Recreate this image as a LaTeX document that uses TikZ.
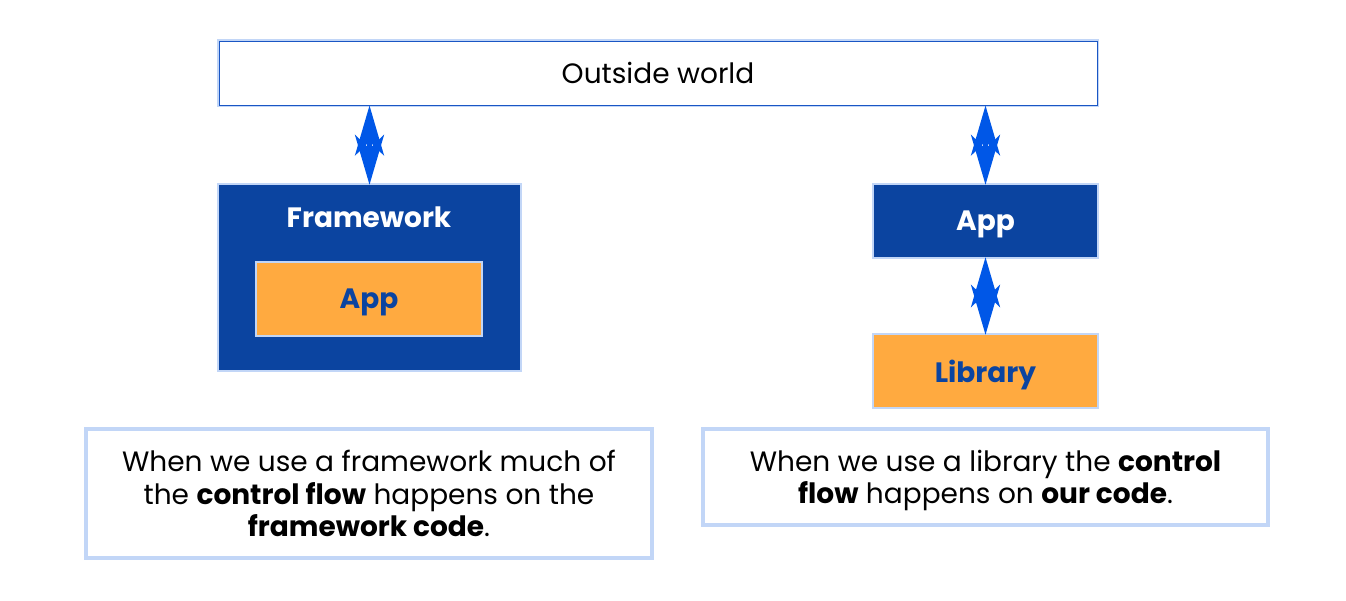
\documentclass[tikz,border=0pt]{standalone}
\usepackage{fontspec}
\setmainfont{Poppins}
\usetikzlibrary{arrows.meta}
\definecolor{navy}{HTML}{0B44A0}
\definecolor{pale}{HTML}{C2D6F7}
\definecolor{edge}{HTML}{1A56C4}
\definecolor{amber}{HTML}{FFAA40}
\definecolor{flow}{HTML}{0057E7}
\begin{document}
\begin{tikzpicture}[x=1pt,y=-1pt,
  box/.style={rectangle,inner sep=0pt,text depth=0pt,preaction={draw=pale,line width=4.5pt}},
  world/.style={box,draw=edge,line width=1pt,fill=white,font=\fontsize{28}{32}\selectfont},
  dark/.style={box,fill=navy,text=white,font=\fontsize{28}{32}\selectfont\bfseries},
  light/.style={box,fill=amber,text=navy,font=\fontsize{28}{32}\selectfont\bfseries},
  note/.style={rectangle,draw=pale,line width=3.5pt,fill=white,align=center,
    font=\fontsize{28}{32.5}\selectfont},
  both/.style={flow,line width=5pt,{Stealth[length=50pt,width=29pt,inset=14pt]}-{Stealth[length=50pt,width=29pt,inset=14pt]}}]
  \useasboundingbox (0,0) rectangle (1346,600);
  \node[world,minimum width=878,minimum height=64] (out) at (658,73) {Outside world};
  \node[dark,minimum width=301,minimum height=185] (fw) at (369.5,277.5) {};
  \node[text=white,font=\fontsize{28}{32}\selectfont\bfseries] (fwlabel) at (369,217) {Framework};
  \node[light,minimum width=224,minimum height=72] (fwapp) at (369,299) {App};
  \node[dark,minimum width=223,minimum height=72] (app) at (985.5,221) {App};
  \node[light,minimum width=223,minimum height=72] (lib) at (985.5,371) {Library};
  \node[note,minimum width=566,minimum height=129] (noteL) at (369,493.5)
    {When we use a framework much of\\the \textbf{control flow} happens on the\\\textbf{framework code}.};
  \node[note,text depth=0pt,minimum width=565,minimum height=96] (noteR) at (985.5,477)
    {When we use a library the \textbf{control}\\\textbf{flow} happens on \textbf{our code}.};
  \draw[both] (out.south -| fw.north) -- (fw.north);
  \draw[both] (out.south -| app.north) -- (app.north);
  \draw[both] (app.south) -- (lib.north);
\end{tikzpicture}
\end{document}
